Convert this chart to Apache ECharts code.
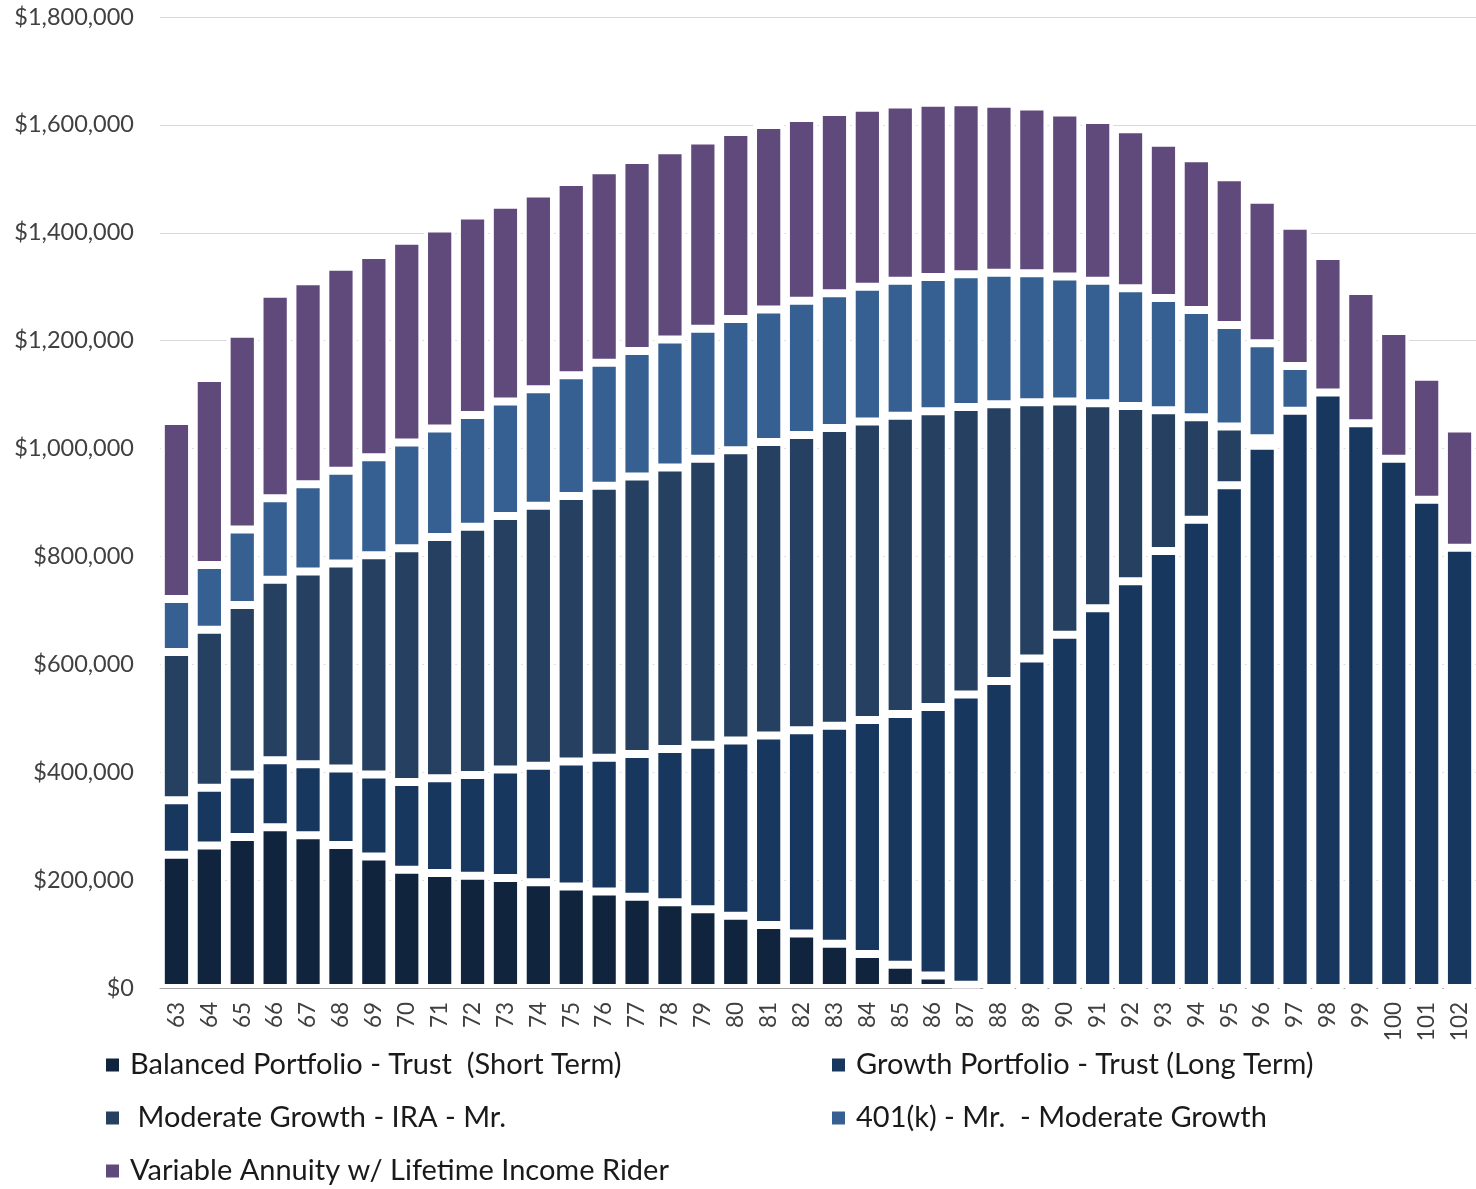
<!DOCTYPE html>
<html>
<head>
<meta charset="utf-8">
<script src="https://cdn.jsdelivr.net/npm/echarts@6/dist/echarts.min.js"></script>
<style>
html,body{margin:0;padding:0;background:#fff;}
#chart{width:1476px;height:1189px;}
</style>
</head>
<body>
<div id="chart"></div>
<script>
const ages = ['63','64','65','66','67','68','69','70','71','72','73','74','75','76','77','78','79','80','81','82','83','84','85','86','87','88','89','90','91','92','93','94','95','96','97','98','99','100','101','102'];

const seriesNames = [
  'Balanced Portfolio - Trust  (Short Term)',
  'Growth Portfolio - Trust (Long Term)',
  ' Moderate Growth - IRA - Mr.',
  '401(k) - Mr.  - Moderate Growth',
  'Variable Annuity w/ Lifetime Income Rider'
];

const balanced = [247000,264000,280000,298000,283000,265000,244000,219000,213000,208000,204000,196000,188000,179000,169000,159000,146000,134000,117000,101000,82000,63000,43000,23000,6000,0,0,0,0,0,0,0,0,0,0,0,0,0,0,0];
const growth = [101000,107000,116000,124000,132000,142000,152000,163000,176000,187000,201000,216000,232000,248000,265000,284000,305000,325000,351000,377000,404000,434000,465000,498000,538000,569000,611000,655000,704000,754000,810000,868000,932000,1005000,1070000,1104000,1047000,981000,905000,816000];
const ira = [275000,293000,314000,335000,357000,380000,406000,433000,447000,460000,470000,482000,492000,504000,514000,522000,530000,538000,544000,547000,552000,553000,553000,548000,533000,513000,475000,432000,380000,325000,261000,190000,109000,14000,0,0,0,0,0,0];
const k401 = [98000,120000,140000,151000,162000,172000,182000,196000,201000,207000,212000,216000,224000,228000,233000,237000,241000,243000,246000,249000,250000,250000,250000,249000,246000,244000,239000,232000,227000,218000,208000,199000,188000,176000,83000,0,0,0,0,0];
const annuity = [330000,347000,363000,379000,376000,378000,375000,374000,371000,370000,365000,363000,358000,357000,354000,351000,349000,347000,342000,339000,336000,332000,327000,323000,319000,313000,309000,304000,298000,295000,288000,281000,274000,266000,260000,253000,245000,237000,228000,221000];

const yTicks = {min: 0, max: 1800000, interval: 200000};

const colors = ['#10243E','#17375E','#254061','#366092','#604A7B'];
const values = [balanced, growth, ira, k401, annuity];

const FONT = 'Lato, "Liberation Sans", sans-serif';

const chart = echarts.init(document.getElementById('chart'), null, {renderer: 'canvas'});

function money(v){
  return '$' + v.toString().replace(/\B(?=(\d{3})+(?!\d))/g, ',');
}

const legendPos = [
  {left: 106, top: 1050},
  {left: 832, top: 1050},
  {left: 106, top: 1103},
  {left: 832, top: 1103},
  {left: 106, top: 1156}
];

const option = {
  animation: false,
  backgroundColor: '#ffffff',
  grid: {left: 160, right: 0, top: 17, bottom: 201, containLabel: false},
  xAxis: {
    type: 'category',
    data: ages,
    axisLine: {show: true, lineStyle: {color: '#a6a6a6', width: 1}},
    axisTick: {show: false},
    axisLabel: {
      rotate: 90,
      margin: 14,
      color: '#404040',
      fontFamily: FONT,
      fontSize: 22.5,
      interval: 0
    }
  },
  yAxis: {
    type: 'value',
    min: yTicks.min,
    max: yTicks.max,
    interval: yTicks.interval,
    axisLine: {show: false},
    axisTick: {show: false},
    splitLine: {lineStyle: {color: '#d9d9d9', width: 1}},
    axisLabel: {
      margin: 26,
      color: '#404040',
      fontFamily: FONT,
      fontSize: 23.5,
      formatter: money
    }
  },
  legend: legendPos.map((p, i) => ({
    left: p.left,
    top: p.top,
    padding: 0,
    data: [seriesNames[i]],
    itemWidth: 13,
    itemHeight: 13,
    icon: 'rect',
    itemStyle: {borderWidth: 0},
    textStyle: {
      color: '#1a1a1a',
      fontFamily: FONT,
      fontSize: 29,
      lineHeight: 30,
      padding: [0, 0, 0, 6]
    }
  })),
  series: seriesNames.map((name, i) => ({
    name: name,
    type: 'bar',
    stack: 'total',
    barWidth: '95%',
    data: values[i],
    itemStyle: {
      color: colors[i],
      borderColor: '#ffffff',
      borderWidth: 4
    },
    emphasis: {disabled: true}
  }))
};

chart.setOption(option);
</script>
</body>
</html>
